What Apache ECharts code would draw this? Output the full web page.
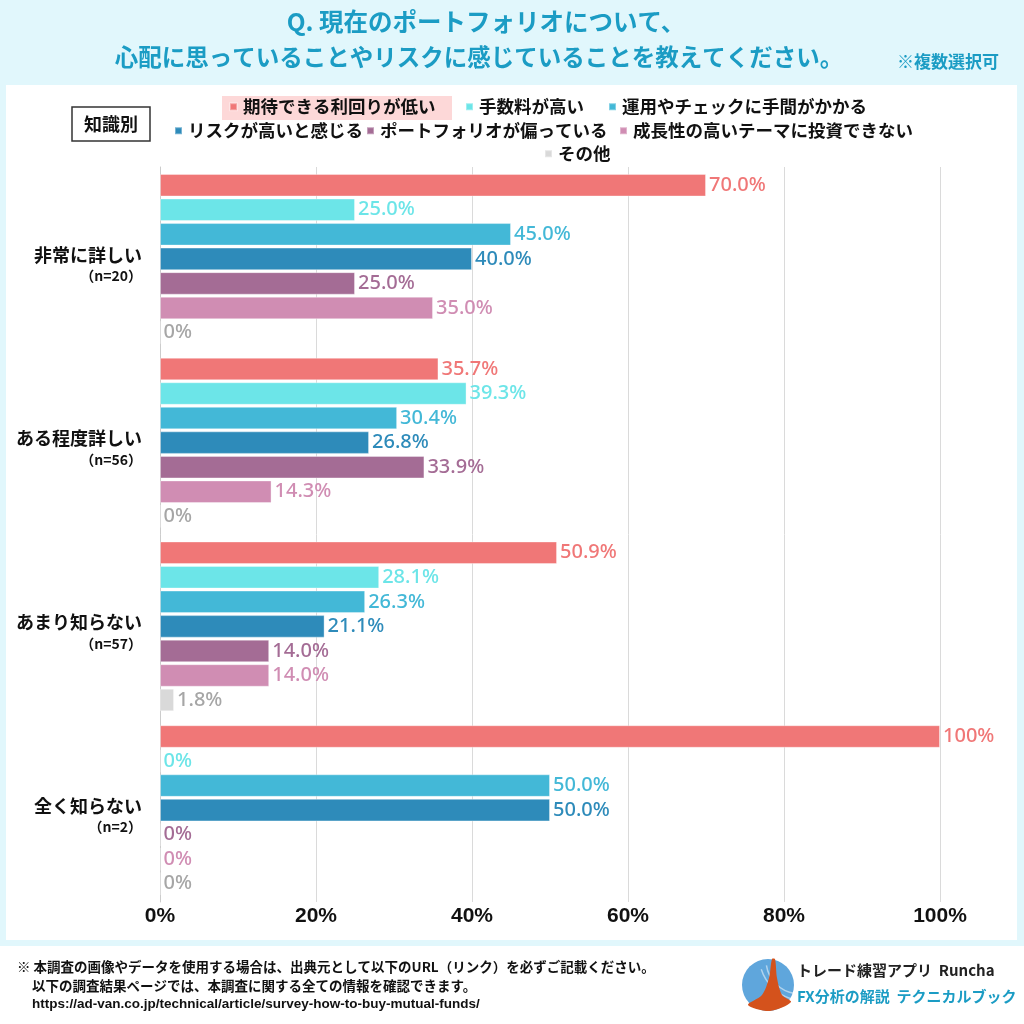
<!DOCTYPE html>
<html><head><meta charset="utf-8">
<script src="https://cdn.jsdelivr.net/npm/echarts@6/dist/echarts.min.js"></script>
<style>html,body{margin:0;padding:0;background:#E1F7FC;}#c{width:1024px;height:1024px;}</style>
</head><body><div id="c"></div>
<script>
const categories = ['非常に詳しい', 'ある程度詳しい', 'あまり知らない', '全く知らない'];
const sampleSizes = ['n=20', 'n=56', 'n=57', 'n=2'];
const seriesNames = ['期待できる利回りが低い', '手数料が高い', '運用やチェックに手間がかかる', 'リスクが高いと感じる', 'ポートフォリオが偏っている', '成長性の高いテーマに投資できない', 'その他'];
const lowReturn = [70.0, 35.7, 50.9, 100];
const highFees = [25.0, 39.3, 28.1, 0];
const effort = [45.0, 30.4, 26.3, 50.0];
const highRisk = [40.0, 26.8, 21.1, 50.0];
const biased = [25.0, 33.9, 14.0, 0];
const noGrowth = [35.0, 14.3, 14.0, 0];
const other = [0, 0, 1.8, 0];
const xTicks = [0, 20, 40, 60, 80, 100];

const values = [lowReturn, highFees, effort, highRisk, biased, noGrowth, other];
const barColors = ['#F07777', '#6CE5E8', '#43B8D7', '#2E8BBA', '#A46C95', '#D08DB3', '#D9D9D9'];
const labelColors = ['#F07777', '#6CE5E8', '#43B8D7', '#2E8BBA', '#A46C95', '#D08DB3', '#A6A6A6'];
const JP = '"Noto Sans CJK JP", "Noto Sans", sans-serif';
const TEAL = '#1B9CC4';

const fmt = v => v === 0 ? '0%' : (v === 100 ? '100%' : v.toFixed(1) + '%');

const legendPos = [[229, 98], [465, 98], [608, 98], [174, 122], [366, 122], [619, 122], [544, 145]];

const chart = echarts.init(document.getElementById('c'), null, {renderer: 'canvas'});
chart.setOption({
  backgroundColor: '#E1F7FC',
  animation: false,
  grid: {left: 160, right: 84, top: 167, bottom: 122, containLabel: false},
  xAxis: {
    type: 'value', min: 0, max: 100, interval: 20,
    axisLine: {show: false}, axisTick: {show: false},
    splitLine: {lineStyle: {color: '#DADADA', width: 1}},
    axisLabel: {formatter: v => v + '%', color: '#111', fontSize: 21, fontWeight: 'bold', fontFamily: '"Liberation Sans", Arial, sans-serif', margin: 4}
  },
  yAxis: {
    type: 'category', inverse: true, data: categories,
    axisLine: {show: true, lineStyle: {color: '#CCCCCC'}}, axisTick: {show: false},
    axisLabel: {
      margin: 18, align: 'right', padding: [12, 0, 0, 0],
      formatter: (v, i) => '{a|' + v + '}\n{b|（' + sampleSizes[i] + '）}',
      rich: {
        a: {fontSize: 18, fontWeight: 'bold', color: '#111', fontFamily: JP, lineHeight: 22, align: 'right'},
        b: {fontSize: 14, fontWeight: 'bold', color: '#111', fontFamily: JP, lineHeight: 20, align: 'right', padding: [0, 0, 0, 0]}
      }
    }
  },
  legend: seriesNames.map((n, i) => ({
    data: [n], left: legendPos[i][0], top: legendPos[i][1], padding: 0,
    itemWidth: 7, itemHeight: 7, icon: 'rect', itemGap: 0, selectedMode: false,
    textStyle: {fontSize: 17.5, fontWeight: 'bold', color: '#111', fontFamily: JP, padding: [0, 0, 0, 1]}
  })),
  series: seriesNames.map((n, i) => ({
    name: n, type: 'bar', data: values[i],
    barCategoryGap: '7.6%', barGap: '9%',
    itemStyle: {color: barColors[i], borderColor: 'rgba(255,255,255,0.35)', borderWidth: 1},
    label: {show: true, position: 'right', distance: 3, formatter: p => fmt(p.value),
      color: labelColors[i], fontSize: 20, fontWeight: 500, fontFamily: '"Noto Sans", "Open Sans", sans-serif'}
  })),
  graphic: [
    {type: 'rect', z: -10, shape: {x: 6, y: 85, width: 1011, height: 855}, style: {fill: '#FFFFFF'}},
    {type: 'rect', z: -10, shape: {x: 0, y: 946, width: 1024, height: 78}, style: {fill: '#FFFFFF'}},
    {type: 'rect', z: -5, shape: {x: 222, y: 96, width: 230, height: 24}, style: {fill: '#FDD8D8'}},
    {type: 'rect', shape: {x: 72, y: 107, width: 78, height: 34}, style: {fill: '#fff', stroke: '#333', lineWidth: 1.5}},
    {type: 'text', style: {x: 111, y: 124, text: '知識別', align: 'center', verticalAlign: 'middle', fontSize: 18, fontWeight: 'bold', fill: '#111', fontFamily: JP}},
    {type: 'text', style: {x: 486, y: 22, text: 'Q. 現在のポートフォリオについて、', align: 'center', verticalAlign: 'middle', fontSize: 24.5, fontWeight: 'bold', fill: TEAL, fontFamily: JP}},
    {type: 'text', style: {x: 479, y: 57, text: '心配に思っていることやリスクに感じていることを教えてください。', align: 'center', verticalAlign: 'middle', fontSize: 23.5, fontWeight: 'bold', fill: TEAL, fontFamily: JP}},
    {type: 'text', style: {x: 948, y: 62, text: '※複数選択可', align: 'center', verticalAlign: 'middle', fontSize: 17, fontWeight: 'bold', fill: TEAL, fontFamily: JP}},
    {type: 'text', style: {x: 17, y: 967, text: '※ 本調査の画像やデータを使用する場合は、出典元として以下のURL（リンク）を必ずご記載ください。', verticalAlign: 'middle', fontSize: 13.5, fontWeight: 'bold', fill: '#111', fontFamily: JP}},
    {type: 'text', style: {x: 32, y: 986, text: '以下の調査結果ページでは、本調査に関する全ての情報を確認できます。', verticalAlign: 'middle', fontSize: 13.5, fontWeight: 'bold', fill: '#111', fontFamily: JP}},
    {type: 'text', style: {x: 32, y: 1004, text: 'https://ad-van.co.jp/technical/article/survey-how-to-buy-mutual-funds/', verticalAlign: 'middle', fontSize: 13.5, fontWeight: 'bold', fill: '#111', fontFamily: '"Liberation Sans", Arial, sans-serif'}},
    {type: 'circle', shape: {cx: 768, cy: 985, r: 26}, style: {fill: '#5FA6DC'}},
    {type: 'arc', shape: {cx: 800, cy: 960, r: 34, startAngle: Math.PI * 0.55, endAngle: Math.PI * 0.95}, style: {stroke: 'rgba(255,255,255,0.5)', lineWidth: 1.5, fill: null}},
    {type: 'arc', shape: {cx: 805, cy: 955, r: 46, startAngle: Math.PI * 0.6, endAngle: Math.PI * 0.9}, style: {stroke: 'rgba(255,255,255,0.5)', lineWidth: 1.5, fill: null}},
    {type: 'polygon', shape: {smooth: 0.3, points: [[748, 1005], [762, 995], [769, 978], [772, 959], [775, 959], [777, 978], [782, 995], [791, 1002], [770, 1011]]}, style: {fill: '#D4521C'}},
    {type: 'text', style: {x: 797, y: 970, text: 'トレード練習アプリ  Runcha', verticalAlign: 'middle', fontSize: 15, fontWeight: 'bold', fill: '#222', fontFamily: JP}},
    {type: 'text', style: {x: 797, y: 996, text: 'FX分析の解説  テクニカルブック', verticalAlign: 'middle', fontSize: 15, fontWeight: 'bold', fill: TEAL, fontFamily: JP}}
  ]
});
</script></body></html>
